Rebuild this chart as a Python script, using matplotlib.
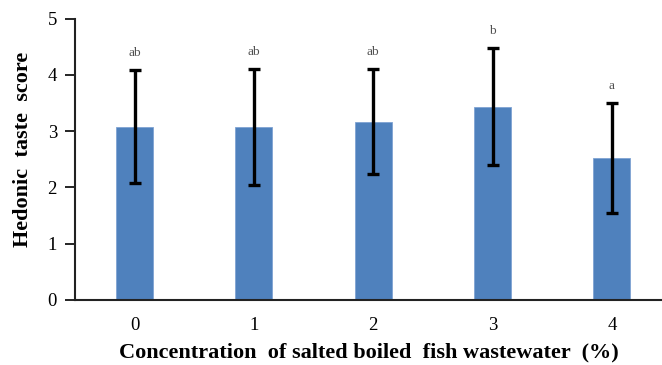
import matplotlib.pyplot as plt

# === DATA ===
concentrations = ['0', '1', '2', '3', '4']
taste_scores = [3.08, 3.07, 3.17, 3.43, 2.52]
score_sd = [1.00, 1.03, 0.94, 1.04, 0.98]
sig_letters = ['ab', 'ab', 'ab', 'b', 'a']

plt.rcParams['font.family'] = ['Liberation Serif', 'DejaVu Serif']

fig = plt.figure(figsize=(6.62, 3.65), dpi=100)
ax = fig.add_axes([75 / 662, 65 / 365, 1 - 75 / 662, 281.5 / 365])

x = range(len(concentrations))
ax.bar(x, taste_scores, width=0.31, color='#4F81BD', edgecolor='#7FA3D3', linewidth=0.6)
ax.errorbar(x, taste_scores, yerr=score_sd, fmt='none', ecolor='black',
            elinewidth=2.4, capsize=4.5, capthick=2.4)

# significance letters above the error bars
for i, (s, e, lab) in enumerate(zip(taste_scores, score_sd, sig_letters)):
    ax.text(i, s + e + 0.3, lab, ha='center', va='center', fontsize=9.5, color='#505050')

ax.set_xlim(-0.5, 4.42)
ax.set_ylim(0, 5)
ax.set_xticks(list(x))
ax.set_xticklabels(concentrations)
ax.set_yticks([0, 1, 2, 3, 4, 5])
ax.tick_params(axis='x', length=0, pad=12, labelsize=13.5)
ax.tick_params(axis='y', length=7, width=1.2, pad=6, labelsize=13.5, direction='out')

for side in ['top', 'right']:
    ax.spines[side].set_visible(False)
ax.spines['left'].set_linewidth(1.5)
ax.spines['bottom'].set_linewidth(1.5)
ax.spines['left'].set_color('#222222')
ax.spines['bottom'].set_color('#222222')

ax.set_xlabel('Concentration  of salted boiled  fish wastewater  (%)',
              fontsize=16, fontweight='bold', labelpad=6.5)
ax.set_ylabel('Hedonic  taste  score', fontsize=16, fontweight='bold')
ax.yaxis.set_label_coords(-0.072, 0.535)

plt.savefig('out.png', dpi=100)
